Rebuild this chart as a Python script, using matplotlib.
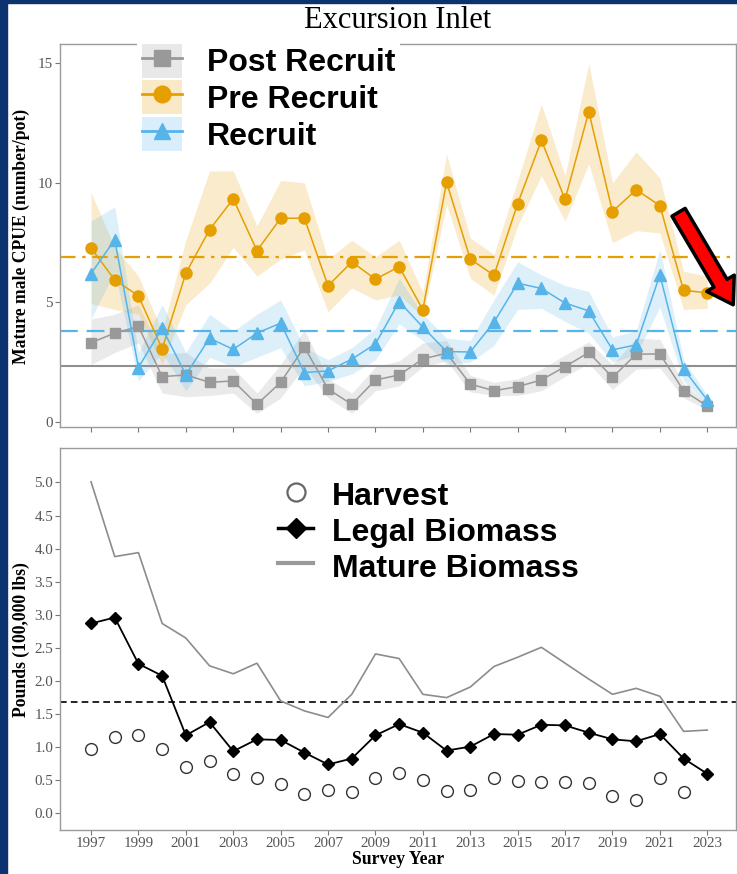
import matplotlib
matplotlib.use("Agg")
import matplotlib.pyplot as plt
from matplotlib.lines import Line2D
from matplotlib.patches import Patch, Rectangle

# ---------------------------------------------------------------
# data
# ---------------------------------------------------------------
years = list(range(1997, 2024))

pre_recruit = [7.27, 5.94, 5.27, 3.05, 6.22, 8.04, 9.33, 7.16, 8.52, 8.52, 5.69, 6.69, 5.97, 6.49,
               4.69, 10.03, 6.81, 6.13, 9.13, 11.78, 9.31, 12.98, 8.80, 9.71, 9.05, 5.50, 5.40]
pre_lo = [4.95, 4.7, 4.5, 2.4, 4.9, 5.8, 7.3, 6.1, 6.8, 7.2, 4.6, 5.6, 5.1, 5.3,
          4.4, 9.1, 6.0, 5.3, 8.2, 10.3, 8.4, 10.8, 7.5, 8.0, 7.9, 4.7, 4.75]
pre_hi = [9.6, 7.3, 6.1, 3.8, 7.6, 10.5, 10.5, 8.2, 10.1, 10.0, 6.8, 7.6, 6.9, 7.6,
          5.4, 11.2, 7.7, 7.0, 10.1, 13.3, 10.3, 15.0, 10.0, 11.3, 10.2, 6.3, 6.1]

recruit = [6.20, 7.62, 2.27, 3.92, 1.97, 3.50, 3.03, 3.71, 4.13, 2.06, 2.13, 2.62, 3.26, 5.03,
           3.96, 2.94, 2.92, 4.17, 5.80, 5.58, 4.97, 4.64, 3.01, 3.22, 6.15, 2.21, 0.91]
rec_lo = [4.3, 6.3, 1.7, 2.9, 1.3, 2.7, 2.3, 2.7, 3.1, 1.5, 1.7, 2.0, 2.6, 4.1,
          3.4, 2.4, 2.5, 3.2, 4.7, 4.75, 4.2, 3.7, 2.5, 2.8, 4.8, 1.7, 0.75]
rec_hi = [8.4, 9.0, 2.9, 4.9, 2.9, 4.5, 3.8, 4.5, 5.1, 3.1, 2.6, 3.1, 3.9, 6.0,
          4.5, 3.5, 3.4, 5.1, 6.7, 6.15, 5.7, 5.45, 3.55, 3.8, 7.2, 2.6, 1.1]

post_recruit = [3.31, 3.71, 3.99, 1.89, 1.96, 1.65, 1.71, 0.73, 1.65, 3.13, 1.37, 0.73, 1.75, 1.96,
                2.63, 2.87, 1.58, 1.30, 1.47, 1.75, 2.31, 2.90, 1.86, 2.83, 2.84, 1.30, 0.66]
post_lo = [2.4, 2.9, 3.3, 1.2, 1.05, 1.1, 1.2, 0.35, 1.0, 2.3, 1.0, 0.35, 1.3, 1.5,
           2.3, 2.55, 1.25, 1.1, 1.1, 1.3, 1.9, 2.45, 1.35, 2.2, 2.25, 1.0, 0.5]
post_hi = [4.3, 4.5, 4.9, 2.85, 2.9, 2.25, 2.25, 1.2, 2.4, 3.85, 1.8, 1.2, 2.3, 2.55,
           3.3, 3.4, 1.95, 1.65, 1.8, 2.2, 2.8, 3.35, 2.4, 3.5, 3.45, 1.6, 0.8]

pre_mean = 6.91
rec_mean = 3.78
post_mean = 2.35

mature_biomass = [5.01, 3.88, 3.94, 2.87, 2.65, 2.23, 2.11, 2.27, 1.70, 1.55, 1.45, 1.80, 2.41, 2.34,
                  1.80, 1.75, 1.91, 2.22, 2.36, 2.51, 2.27, 2.03, 1.80, 1.89, 1.77, 1.24, 1.26]
legal_biomass = [2.87, 2.96, 2.26, 2.08, 1.18, 1.38, 0.94, 1.12, 1.11, 0.92, 0.74, 0.83, 1.18, 1.35,
                 1.22, 0.95, 1.01, 1.20, 1.19, 1.34, 1.33, 1.22, 1.12, 1.09, 1.20, 0.83, 0.60]
harvest = [0.97, 1.15, 1.19, 0.97, 0.70, 0.79, 0.59, 0.53, 0.45, 0.30, 0.36, 0.33, 0.54, 0.61,
           0.51, 0.34, 0.35, 0.53, 0.49, 0.48, 0.47, 0.46, 0.27, 0.21, 0.53, 0.33, float("nan")]
legal_threshold = 1.68

odd_years = list(range(1997, 2024, 2))

ORANGE = "#E69F00"
BLUE = "#56B4E9"
GREY = "#999999"
SERIF = "Liberation Serif"
SANS = "Liberation Sans"
TICK_COL = "#555555"

fig = plt.figure(figsize=(7.37, 8.74), dpi=100)

# slide background strips
fig.patches.append(Rectangle((0, 0), 7 / 737, 1, transform=fig.transFigure, color="#0d3270", zorder=0))
fig.patches.append(Rectangle((0, 1 - 3 / 874), 1, 3 / 874, transform=fig.transFigure, color="#0d3270", zorder=0))

ax1 = fig.add_axes([0.0814, 0.5114, 0.9172, 0.4382])
ax2 = fig.add_axes([0.0814, 0.0503, 0.9172, 0.4371])


def style_axes(ax):
    for s in ax.spines.values():
        s.set_color("#9a9a9a")
        s.set_linewidth(1.0)
    ax.tick_params(direction="out", length=3.5, width=0.8, color="#777777",
                   labelcolor=TICK_COL, labelsize=10.8, pad=1.5)
    for lab in ax.get_xticklabels() + ax.get_yticklabels():
        lab.set_fontfamily(SERIF)


# --------------------------------------------------------
# top: CPUE
# --------------------------------------------------------
ax1.fill_between(years, post_lo, post_hi, color=GREY, alpha=0.2, lw=0, zorder=1)
ax1.fill_between(years, pre_lo, pre_hi, color=ORANGE, alpha=0.2, lw=0, zorder=1)
ax1.fill_between(years, rec_lo, rec_hi, color=BLUE, alpha=0.2, lw=0, zorder=1)

ax1.axhline(pre_mean, color=ORANGE, lw=1.6, ls=(0, (7, 3, 1.5, 3)), zorder=2)
ax1.axhline(rec_mean, color=BLUE, lw=1.6, ls=(0, (8, 4)), zorder=2)
ax1.axhline(post_mean, color="#8f8f8f", lw=1.5, zorder=2)

ax1.plot(years, post_recruit, color=GREY, lw=1.1, marker="s", ms=7.5, zorder=3)
ax1.plot(years, pre_recruit, color=ORANGE, lw=1.1, marker="o", ms=8, zorder=3)
ax1.plot(years, recruit, color=BLUE, lw=1.1, marker="^", ms=8.5, zorder=3)

ax1.set_xlim(1995.69, 2024.21)
ax1.set_ylim(-0.22, 15.81)
ax1.set_yticks([0, 5, 10, 15])
ax1.set_xticks(odd_years)
ax1.set_xticklabels([])
style_axes(ax1)

top_handles = [
    (Patch(facecolor=GREY, alpha=0.22, edgecolor="none"),
     Line2D([], [], color=GREY, lw=2, marker="s", ms=11)),
    (Patch(facecolor=ORANGE, alpha=0.22, edgecolor="none"),
     Line2D([], [], color=ORANGE, lw=2, marker="o", ms=12)),
    (Patch(facecolor=BLUE, alpha=0.22, edgecolor="none"),
     Line2D([], [], color=BLUE, lw=2, marker="^", ms=12)),
]
leg1 = ax1.legend(top_handles, ["Post Recruit", "Pre Recruit", "Recruit"],
                  loc="upper left", bbox_to_anchor=(0.114, 1.013), borderaxespad=0,
                  prop=dict(family=SANS, weight="bold", size=23),
                  handlelength=1.25, handleheight=1.25, handletextpad=0.8,
                  labelspacing=0.06, borderpad=0.15, frameon=True, fancybox=False,
                  framealpha=1, facecolor="white", edgecolor="none")
leg1.set_zorder(10)

# red arrow pointing at the recent drop
ax1.annotate("", xy=(0.998, 0.313), xytext=(0.913, 0.567),
             xycoords="axes fraction", textcoords="axes fraction",
             arrowprops=dict(arrowstyle="simple,tail_width=0.55,head_width=1.15,head_length=0.9",
                             mutation_scale=20, fc="#ff0000", ec="black", lw=2.5),
             annotation_clip=False, zorder=11)

# --------------------------------------------------------
# bottom: biomass and harvest
# --------------------------------------------------------
ax2.axhline(legal_threshold, color="black", lw=1.2, ls=(0, (4, 2.5)), zorder=2)
ax2.plot(years, mature_biomass, color="#8c8c8c", lw=1.2, zorder=3)
ax2.plot(years, legal_biomass, color="black", lw=1.3, marker="D", ms=6, zorder=4)
ax2.plot(years, harvest, ls="none", marker="o", mfc="white", mec="#333333", ms=8.5, mew=1, zorder=4)

ax2.set_xlim(1995.69, 2024.21)
ax2.set_ylim(-0.25, 5.52)
ax2.set_yticks([0.0, 0.5, 1.0, 1.5, 2.0, 2.5, 3.0, 3.5, 4.0, 4.5, 5.0])
ax2.set_yticklabels([f"{v:.1f}" for v in ax2.get_yticks()])
ax2.set_xticks(odd_years)
ax2.set_xticklabels([str(y) for y in odd_years])
style_axes(ax2)

bottom_handles = [
    Line2D([], [], ls="none", marker="o", mfc="white", mec="#666666", ms=13, mew=1.6),
    Line2D([], [], color="black", lw=2.5, marker="D", ms=10),
    Line2D([], [], color="#999999", lw=3),
]
ax2.legend(bottom_handles, ["Harvest", "Legal Biomass", "Mature Biomass"],
           loc="upper left", bbox_to_anchor=(0.3225, 0.921), borderaxespad=0,
           prop=dict(family=SANS, weight="bold", size=23),
           handlelength=1.1, handleheight=1.2, handletextpad=0.6,
           labelspacing=0.05, borderpad=0, frameon=False)

# --------------------------------------------------------
# text
# --------------------------------------------------------
fig.text(398 / 737, 1 - 20 / 874, "Excursion Inlet", family=SERIF, size=22,
         ha="center", va="center")
fig.text(21 / 737, 1 - 236 / 874, "Mature male CPUE (number/pot)", family=SERIF,
         weight="bold", size=12.7, rotation=90, ha="center", va="center")
fig.text(21 / 737, 1 - 640 / 874, "Pounds (100,000 lbs)", family=SERIF,
         weight="bold", size=12.7, rotation=90, ha="center", va="center")
fig.text(398 / 737, 1 - 860 / 874, "Survey Year", family=SERIF, weight="bold",
         size=12.7, ha="center", va="center")

fig.savefig("out.png", dpi=100)
